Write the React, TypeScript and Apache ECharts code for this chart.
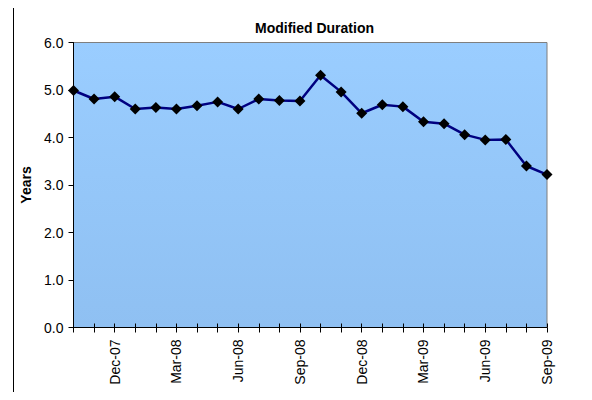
import React, { useEffect, useRef } from "react";
import * as echarts from "echarts";

const categories = [
  "Oct-07", "Nov-07", "Dec-07", "Jan-08", "Feb-08", "Mar-08", "Apr-08", "May-08",
  "Jun-08", "Jul-08", "Aug-08", "Sep-08", "Oct-08", "Nov-08", "Dec-08", "Jan-09",
  "Feb-09", "Mar-09", "Apr-09", "May-09", "Jun-09", "Jul-09", "Aug-09", "Sep-09",
];
const durationValues = [
  4.99, 4.81, 4.86, 4.6, 4.63, 4.6, 4.67, 4.75, 4.6, 4.81, 4.78, 4.77,
  5.31, 4.96, 4.51, 4.69, 4.65, 4.33, 4.29, 4.06, 3.95, 3.96, 3.4, 3.22,
];
const chartTitle = "Modified Duration";
const yAxisName = "Years";

export default function App() {
  const ref = useRef<HTMLDivElement>(null);
  useEffect(() => {
    if (!ref.current) return;
    const chart = echarts.init(ref.current, undefined, { renderer: "svg" });
    const font = "'Liberation Sans', Arial, sans-serif";
    chart.setOption({
      animation: false,
      backgroundColor: "transparent",
      title: {
        text: chartTitle,
        left: 250,
        top: 16,
        textStyle: { fontFamily: font, fontSize: 14, fontWeight: "bold", color: "#000" },
      },
      grid: {
        left: 73.5,
        right: 45,
        top: 42.5,
        bottom: 72.5,
        show: true,
        borderColor: "#7f7f7f",
        borderWidth: 1,
        backgroundColor: new echarts.graphic.LinearGradient(0, 0, 0, 1, [
          { offset: 0, color: "#9acdff" },
          { offset: 1, color: "#8fc0f2" },
        ]),
      },
      xAxis: [
        {
          type: "category",
          data: categories,
          boundaryGap: false,
          axisLine: { lineStyle: { color: "#000", width: 1 } },
          axisTick: { show: true, interval: 0, length: 5, lineStyle: { color: "#000" } },
          axisLabel: {
            interval: (i: number) => i % 3 === 2,
            rotate: 90,
            margin: 12,
            fontFamily: font,
            fontSize: 14,
            color: "#000",
          },
          splitLine: { show: false },
        },
        {
          type: "category",
          data: categories,
          boundaryGap: false,
          position: "bottom",
          axisLine: { show: false },
          axisTick: { show: true, inside: true, interval: 0, length: 4, lineStyle: { color: "#000" } },
          axisLabel: { show: false },
          splitLine: { show: false },
        },
      ],
      yAxis: {
        type: "value",
        min: 0,
        max: 6,
        interval: 1,
        name: yAxisName,
        nameLocation: "middle",
        nameGap: 32,
        nameRotate: 90,
        nameTextStyle: { fontFamily: font, fontSize: 14, fontWeight: "bold", color: "#000" },
        axisLine: { show: true, lineStyle: { color: "#000", width: 1 } },
        axisTick: { show: true, length: 5, lineStyle: { color: "#000" } },
        axisLabel: {
          formatter: (v: number) => v.toFixed(1),
          fontFamily: font,
          fontSize: 14,
          color: "#000",
          margin: 10,
        },
        splitLine: { show: false },
      },
      series: [
        {
          type: "line",
          data: durationValues,
          xAxisIndex: 0,
          symbol: "diamond",
          symbolSize: 11,
          itemStyle: { color: "#000" },
          lineStyle: { color: "#000080", width: 2.5 },
          z: 5,
        },
      ],
    });
    return () => chart.dispose();
  }, []);
  return (
    <div
      style={{
        position: "relative",
        width: 592,
        height: 400,
        margin: -8,
        overflow: "hidden",
        background: "#ffffff",
      }}
    >
      <div
        style={{
          position: "absolute",
          left: 13,
          top: 5,
          width: 700,
          height: 500,
          border: "1px solid #000",
          boxSizing: "border-box",
          pointerEvents: "none",
        }}
      />
      <div ref={ref} style={{ position: "absolute", left: 0, top: 0, width: 592, height: 400 }} />
    </div>
  );
}
